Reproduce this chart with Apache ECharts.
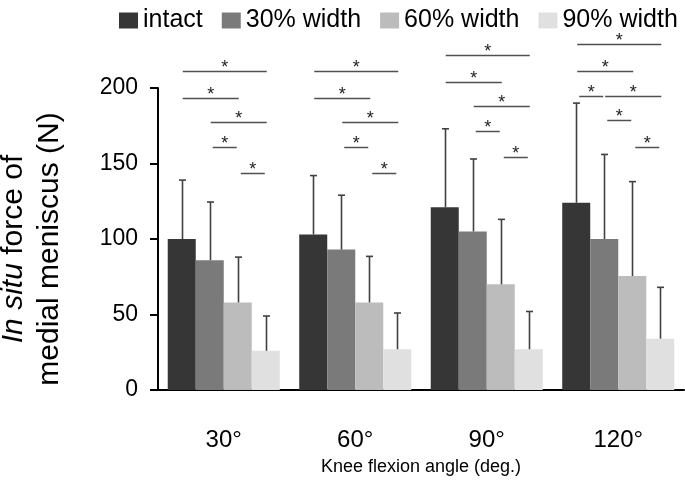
<!DOCTYPE html>
<html>
<head>
<meta charset="utf-8">
<script src="https://cdn.jsdelivr.net/npm/echarts@6/dist/echarts.min.js"></script>
<style>html,body{margin:0;padding:0;background:#fff}#c{width:685px;height:485px}</style>
</head>
<body>
<div id="c"></div>
<script>
// ---- data ----
const categories = ['30°', '60°', '90°', '120°'];
const seriesNames = ['intact', '30% width', '60% width', '90% width'];
const intact = [100, 103, 121, 124];
const width30 = [86, 93, 105, 100];
const width60 = [58, 58, 70, 75.5];
const width90 = [26, 27, 27, 34];
const intactSD = [39, 39, 52, 66];
const width30SD = [38.5, 36, 48, 56];
const width60SD = [30, 30.5, 43, 62.5];
const width90SD = [23, 24, 25, 34];
const yTicks = [0, 50, 100, 150, 200];
// significance brackets: [category index, from series, to series, y value]
const sigBrackets = [
  [0, 0, 3, 211], [0, 0, 2, 193.5], [0, 1, 3, 177.5], [0, 1, 2, 161], [0, 2, 3, 143.5],
  [1, 0, 3, 211], [1, 0, 2, 193.5], [1, 1, 3, 177.5], [1, 1, 2, 161], [1, 2, 3, 143.5],
  [2, 0, 3, 222], [2, 0, 2, 204], [2, 1, 3, 188], [2, 1, 2, 171.5], [2, 2, 3, 154],
  [3, 0, 3, 229], [3, 0, 2, 211], [3, 0, 1, 195], [3, 1, 3, 195], [3, 1, 2, 178.5], [3, 2, 3, 161]
];

// ---- chart ----
const values = [intact, width30, width60, width90];
const sds = [intactSD, width30SD, width60SD, width90SD];
const colors = ['#363636', '#7a7a7a', '#bcbcbc', '#e0e0e0'];
const FONT = "'Liberation Sans', Arial, sans-serif";
const GAP = 0.148;

const errData = [];
values.forEach((arr, s) => arr.forEach((v, c) => errData.push([c, s, v, sds[s][c]])));

function barCenter(api, cat, s, val) {
  const p = api.coord([cat, val]);
  const catW = api.size([1, 0])[0];
  const bw = catW * (1 - GAP) / 4;
  return [p[0] + (s - 1.5) * bw, p[1], bw];
}

const series = values.map((arr, s) => ({
  type: 'bar', name: seriesNames[s], data: arr,
  barGap: 0, barCategoryGap: (GAP * 100) + '%',
  itemStyle: { color: colors[s] }, silent: true
}));

series.push({
  type: 'custom', name: 'err', data: errData, silent: true, z: 5,
  encode: { x: 0, y: 2 },
  renderItem(params, api) {
    const cat = api.value(0), s = api.value(1), v = api.value(2), sd = api.value(3);
    const b = barCenter(api, cat, s, v);
    const t = barCenter(api, cat, s, v + sd);
    const x = Math.round(b[0]) + 0.5;
    return {
      type: 'group', children: [
        { type: 'line', shape: { x1: x, y1: b[1], x2: x, y2: t[1] }, style: { stroke: '#404040', lineWidth: 1.6 } },
        { type: 'line', shape: { x1: x - 3.5, y1: t[1], x2: x + 3.5, y2: t[1] }, style: { stroke: '#404040', lineWidth: 1.6 } }
      ]
    };
  }
});

series.push({
  type: 'custom', name: 'sig', data: sigBrackets, silent: true, z: 5,
  encode: { x: 0, y: 3 },
  renderItem(params, api) {
    const cat = api.value(0), a = api.value(1), b = api.value(2), y = api.value(3);
    const p1 = barCenter(api, cat, a, y);
    const p2 = barCenter(api, cat, b, y);
    const adj = (b - a === 1) ? 2 : 0;
    const x1 = p1[0] + 1 + adj, x2 = p2[0] + 1 - adj;
    const yy = Math.round(p1[1]) + 0.5;
    return {
      type: 'group', children: [
        { type: 'line', shape: { x1: x1, y1: yy, x2: x2, y2: yy }, style: { stroke: '#505050', lineWidth: 1.5 } },
        { type: 'text', x: (x1 + x2) / 2, y: yy - 3, style: { text: '*', font: "18px " + FONT, fill: '#222', align: 'center', verticalAlign: 'middle' } }
      ]
    };
  }
});

const chart = echarts.init(document.getElementById('c'), null, { renderer: 'canvas' });
chart.setOption({
  animation: false,
  textStyle: { fontFamily: FONT },
  legend: {
    data: seriesNames, left: 114, top: 3, width: 571, icon: 'rect', itemWidth: 19, itemHeight: 16, itemGap: 19,
    textStyle: { fontSize: 25, color: '#000', fontFamily: FONT }
  },
  grid: { left: 158, right: 1, top: 88, bottom: 95, containLabel: false, outerBoundsMode: 'none' },
  xAxis: {
    type: 'category', data: categories,
    axisLine: { lineStyle: { color: '#000', width: 2 } },
    axisTick: { show: false },
    axisLabel: { fontSize: 24, color: '#000', margin: 38, fontFamily: FONT },
    name: 'Knee flexion angle (deg.)', nameLocation: 'middle', nameGap: 68,
    nameTextStyle: { fontSize: 18, color: '#000', fontFamily: FONT }
  },
  yAxis: {
    type: 'value', min: yTicks[0], max: yTicks[yTicks.length - 1], interval: yTicks[1] - yTicks[0],
    axisLine: { show: true, lineStyle: { color: '#000', width: 2 } },
    axisTick: { show: true, length: 8, lineStyle: { color: '#000', width: 2 } },
    splitLine: { show: false },
    axisLabel: { fontSize: 23, color: '#000', margin: 20, fontFamily: FONT },
    name: '{i|In situ} force of\nmedial meniscus (N)', nameLocation: 'middle', nameGap: 90, nameRotate: 90,
    nameTextStyle: {
      fontSize: 30, color: '#000', fontFamily: FONT, lineHeight: 36, align: 'center', padding: [0, 20, 0, 0],
      rich: { i: { fontStyle: 'italic', fontSize: 30, fontFamily: FONT, color: '#000', lineHeight: 36 } }
    }
  },
  series: series
});
</script>
</body>
</html>
